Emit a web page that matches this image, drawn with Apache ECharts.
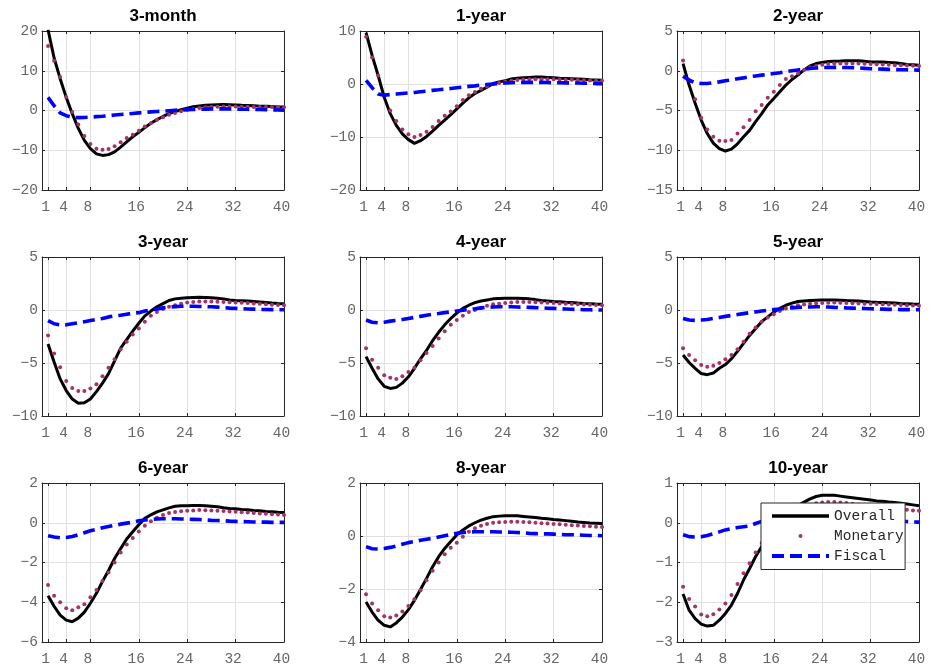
<!DOCTYPE html>
<html>
<head>
<meta charset="utf-8">
<script src="https://cdn.jsdelivr.net/npm/echarts@6/dist/echarts.min.js"></script>
<style>
html,body{margin:0;padding:0;background:#ffffff;}
#chart{width:932px;height:671px;}
</style>
</head>
<body>
<div id="chart"></div>
<script>
// ---------------- data ----------------
const quarters = [1,2,3,4,5,6,7,8,9,10,11,12,13,14,15,16,17,18,19,20,21,22,23,24,25,26,27,28,29,30,31,32,33,34,35,36,37,38,39,40];
const xTickLabels = [1, 4, 8, 16, 24, 32, 40];
const panelTitles = ['3-month', '1-year', '2-year', '3-year', '4-year', '5-year', '6-year', '8-year', '10-year'];
const yMins  = [-20, -20, -15, -10, -10, -10, -6, -4, -3];
const yMaxs  = [20, 10, 5, 5, 5, 5, 2, 2, 1];
const ySteps = [10, 10, 5, 5, 5, 5, 2, 2, 1];
const seriesNames = ['Overall', 'Monetary', 'Fiscal'];

const overall3m  = [20.3,13.2,8.0,3.3,-0.8,-4.5,-7.5,-9.6,-10.9,-11.3,-11.1,-10.4,-9.2,-7.9,-6.6,-5.5,-4.3,-3.2,-2.3,-1.5,-0.8,-0.3,0.2,0.6,0.95,1.15,1.3,1.4,1.45,1.5,1.45,1.4,1.3,1.25,1.2,1.1,1.05,1.0,0.9,0.85];
const monetary3m = [16.2,12.5,8.4,3.4,-0.4,-3.5,-6.4,-8.4,-9.6,-9.9,-9.7,-9.0,-8.0,-6.9,-6.1,-5.1,-4.0,-3.2,-2.3,-1.7,-1.1,-0.6,-0.2,0.2,0.4,0.65,0.8,0.9,0.95,1.0,1.0,1.0,0.95,0.95,0.9,0.9,0.85,0.85,0.8,0.8];
const fiscal3m   = [3.3,1.2,-0.6,-1.3,-1.7,-1.8,-1.75,-1.65,-1.55,-1.45,-1.3,-1.15,-1.0,-0.9,-0.75,-0.6,-0.5,-0.35,-0.25,-0.15,-0.05,0.05,0.15,0.2,0.25,0.3,0.35,0.4,0.4,0.4,0.38,0.35,0.33,0.3,0.27,0.25,0.2,0.17,0.13,0.1];

const overall1y  = [9.7,5.4,1.6,-2.5,-5.6,-7.8,-9.4,-10.5,-11.2,-10.7,-9.9,-8.9,-7.8,-6.8,-5.8,-4.7,-3.6,-2.6,-1.8,-1.2,-0.6,0.1,0.4,0.6,0.95,1.1,1.2,1.25,1.3,1.3,1.25,1.2,1.1,1.05,1.0,0.95,0.9,0.8,0.75,0.7];
const monetary1y = [8.9,5.0,1.6,-2.1,-5.0,-7.0,-8.6,-9.5,-10.0,-9.6,-9.0,-8.1,-7.0,-6.0,-5.2,-4.2,-3.0,-2.1,-1.5,-0.9,-0.45,-0.05,0.2,0.45,0.6,0.75,0.85,0.9,0.9,0.9,0.9,0.9,0.85,0.8,0.8,0.75,0.7,0.65,0.6,0.6];
const fiscal1y   = [0.7,-0.7,-1.9,-2.1,-2.0,-1.9,-1.8,-1.7,-1.6,-1.45,-1.35,-1.2,-1.1,-0.95,-0.85,-0.7,-0.6,-0.45,-0.35,-0.2,-0.1,0.0,0.1,0.2,0.25,0.28,0.3,0.3,0.3,0.3,0.28,0.25,0.23,0.22,0.2,0.2,0.15,0.12,0.08,0.05];

const overall2y  = [0.9,-1.8,-4.1,-6.2,-7.9,-9.1,-9.8,-10.1,-9.85,-9.2,-8.3,-7.5,-6.4,-5.4,-4.3,-3.5,-2.65,-1.8,-1.1,-0.55,0.1,0.6,0.9,1.05,1.15,1.2,1.22,1.25,1.25,1.25,1.2,1.1,1.1,1.1,1.05,1.0,0.9,0.8,0.75,0.7];
const monetary2y = [1.3,-1.2,-3.6,-5.9,-7.4,-8.3,-8.8,-8.85,-8.7,-7.9,-7.1,-6.2,-5.1,-4.3,-3.4,-2.65,-1.8,-1.05,-0.7,-0.3,0.1,0.4,0.6,0.75,0.85,0.9,0.9,0.9,0.9,0.9,0.88,0.85,0.82,0.8,0.75,0.7,0.68,0.65,0.62,0.6];
const fiscal2y   = [-0.7,-1.2,-1.5,-1.6,-1.6,-1.5,-1.4,-1.25,-1.15,-1.0,-0.9,-0.75,-0.65,-0.55,-0.45,-0.35,-0.25,-0.1,0.0,0.1,0.2,0.28,0.35,0.4,0.4,0.42,0.42,0.4,0.38,0.35,0.3,0.25,0.22,0.2,0.17,0.15,0.13,0.12,0.1,0.1];

const overall3y  = [-3.2,-4.9,-6.5,-7.6,-8.4,-8.8,-8.75,-8.4,-7.7,-6.9,-6.0,-4.8,-3.6,-2.8,-2.0,-1.25,-0.55,-0.1,0.3,0.6,0.9,1.05,1.1,1.15,1.18,1.2,1.18,1.15,1.1,1.05,0.95,0.9,0.88,0.85,0.8,0.75,0.7,0.65,0.62,0.6];
const monetary3y = [-2.4,-4.1,-5.4,-6.7,-7.35,-7.65,-7.65,-7.4,-7.0,-6.25,-5.45,-4.65,-3.7,-3.0,-2.3,-1.75,-1.1,-0.55,-0.2,0.1,0.3,0.45,0.6,0.7,0.75,0.8,0.8,0.8,0.78,0.75,0.72,0.7,0.68,0.65,0.62,0.6,0.55,0.5,0.48,0.45];
const fiscal3y   = [-1.0,-1.3,-1.4,-1.4,-1.3,-1.2,-1.1,-1.0,-0.9,-0.8,-0.65,-0.55,-0.5,-0.4,-0.3,-0.25,-0.1,0.0,0.1,0.2,0.28,0.32,0.35,0.35,0.35,0.33,0.32,0.3,0.27,0.22,0.18,0.15,0.12,0.1,0.08,0.05,0.05,0.04,0.03,0.03];

const overall4y  = [-4.4,-5.5,-6.5,-7.2,-7.4,-7.3,-6.9,-6.3,-5.5,-4.6,-3.8,-2.9,-2.1,-1.4,-0.8,-0.3,0.15,0.45,0.7,0.85,0.95,1.05,1.08,1.1,1.1,1.1,1.08,1.05,0.98,0.9,0.85,0.8,0.77,0.73,0.7,0.65,0.62,0.6,0.57,0.55];
const monetary4y = [-3.6,-4.7,-5.45,-6.15,-6.4,-6.5,-6.25,-5.85,-5.45,-4.75,-4.05,-3.4,-2.7,-2.0,-1.4,-0.95,-0.55,-0.2,0.0,0.2,0.4,0.55,0.6,0.65,0.7,0.75,0.75,0.75,0.72,0.7,0.68,0.65,0.62,0.6,0.57,0.55,0.52,0.5,0.47,0.45];
const fiscal4y   = [-0.95,-1.15,-1.2,-1.15,-1.05,-0.98,-0.9,-0.8,-0.7,-0.6,-0.5,-0.4,-0.33,-0.25,-0.18,-0.1,-0.02,0.05,0.12,0.2,0.25,0.28,0.3,0.3,0.3,0.28,0.27,0.25,0.22,0.2,0.17,0.15,0.12,0.1,0.07,0.05,0.03,0.02,0.01,0.0];

const overall5y  = [-4.25,-4.95,-5.5,-6.0,-6.1,-5.95,-5.5,-5.15,-4.6,-3.9,-3.15,-2.4,-1.75,-1.1,-0.65,-0.2,0.15,0.45,0.65,0.8,0.85,0.9,0.93,0.95,0.95,0.95,0.93,0.9,0.88,0.85,0.8,0.75,0.72,0.7,0.68,0.65,0.62,0.6,0.57,0.55];
const monetary5y = [-3.6,-4.25,-4.75,-5.2,-5.35,-5.25,-5.0,-4.65,-4.25,-3.7,-3.0,-2.25,-1.65,-1.1,-0.7,-0.4,-0.1,0.15,0.3,0.45,0.52,0.6,0.62,0.65,0.68,0.7,0.68,0.65,0.63,0.62,0.6,0.6,0.57,0.55,0.52,0.5,0.47,0.45,0.42,0.4];
const fiscal5y   = [-0.8,-0.95,-0.98,-0.95,-0.9,-0.8,-0.7,-0.6,-0.52,-0.43,-0.34,-0.25,-0.18,-0.1,-0.02,0.05,0.1,0.15,0.2,0.25,0.27,0.28,0.3,0.3,0.28,0.25,0.23,0.2,0.18,0.16,0.14,0.12,0.1,0.08,0.06,0.05,0.04,0.04,0.03,0.03];

const overall6y  = [-3.67,-4.2,-4.65,-4.9,-4.98,-4.8,-4.5,-4.05,-3.55,-2.95,-2.4,-1.8,-1.3,-0.82,-0.45,-0.1,0.22,0.4,0.55,0.65,0.75,0.83,0.85,0.86,0.87,0.87,0.85,0.83,0.8,0.75,0.72,0.7,0.67,0.65,0.62,0.6,0.57,0.55,0.53,0.52];
const monetary6y = [-3.13,-3.67,-4.0,-4.3,-4.4,-4.25,-4.1,-3.75,-3.38,-2.93,-2.5,-2.0,-1.5,-1.1,-0.77,-0.44,-0.15,0.07,0.25,0.39,0.49,0.54,0.58,0.6,0.62,0.64,0.63,0.62,0.6,0.59,0.57,0.55,0.53,0.51,0.49,0.47,0.45,0.43,0.41,0.39];
const fiscal6y   = [-0.65,-0.72,-0.76,-0.74,-0.69,-0.6,-0.5,-0.4,-0.33,-0.25,-0.19,-0.13,-0.07,-0.02,0.03,0.1,0.14,0.17,0.19,0.2,0.2,0.2,0.19,0.18,0.17,0.16,0.14,0.12,0.11,0.1,0.08,0.07,0.06,0.05,0.04,0.03,0.03,0.02,0.02,0.02];

const overall8y  = [-2.49,-2.87,-3.18,-3.37,-3.43,-3.28,-3.06,-2.78,-2.43,-2.02,-1.6,-1.16,-0.78,-0.47,-0.21,0.04,0.23,0.38,0.5,0.6,0.67,0.73,0.75,0.76,0.76,0.76,0.74,0.72,0.7,0.67,0.65,0.62,0.6,0.58,0.56,0.53,0.51,0.49,0.48,0.47];
const monetary8y = [-2.2,-2.55,-2.8,-3.03,-3.08,-3.0,-2.85,-2.64,-2.39,-2.05,-1.67,-1.31,-1.0,-0.69,-0.44,-0.25,-0.03,0.16,0.29,0.39,0.45,0.5,0.52,0.53,0.54,0.54,0.53,0.52,0.5,0.48,0.47,0.45,0.44,0.42,0.41,0.4,0.38,0.37,0.35,0.34];
const fiscal8y   = [-0.4,-0.48,-0.49,-0.47,-0.43,-0.38,-0.31,-0.25,-0.21,-0.16,-0.12,-0.09,-0.04,0.01,0.06,0.1,0.13,0.15,0.16,0.16,0.16,0.16,0.15,0.15,0.14,0.13,0.12,0.1,0.09,0.08,0.08,0.07,0.06,0.05,0.05,0.04,0.03,0.02,0.02,0.01];

const overall10y  = [-1.79,-2.2,-2.41,-2.55,-2.6,-2.58,-2.45,-2.28,-2.07,-1.78,-1.44,-1.15,-0.85,-0.6,-0.35,-0.13,0.05,0.2,0.33,0.43,0.52,0.6,0.66,0.69,0.69,0.69,0.67,0.65,0.63,0.61,0.59,0.57,0.55,0.54,0.52,0.51,0.49,0.47,0.45,0.43];
const monetary10y = [-1.61,-1.92,-2.11,-2.31,-2.35,-2.3,-2.18,-2.03,-1.82,-1.54,-1.27,-1.02,-0.75,-0.51,-0.3,-0.12,0.04,0.17,0.27,0.35,0.41,0.45,0.49,0.51,0.52,0.52,0.51,0.5,0.48,0.46,0.45,0.43,0.41,0.39,0.37,0.36,0.35,0.33,0.31,0.3];
const fiscal10y   = [-0.3,-0.35,-0.36,-0.35,-0.32,-0.28,-0.23,-0.18,-0.15,-0.12,-0.1,-0.08,-0.02,0.03,0.07,0.1,0.11,0.12,0.12,0.12,0.12,0.12,0.12,0.12,0.11,0.1,0.1,0.09,0.08,0.07,0.07,0.06,0.05,0.05,0.04,0.04,0.03,0.03,0.02,0.02];

const overallByPanel  = [overall3m, overall1y, overall2y, overall3y, overall4y, overall5y, overall6y, overall8y, overall10y];
const monetaryByPanel = [monetary3m, monetary1y, monetary2y, monetary3y, monetary4y, monetary5y, monetary6y, monetary8y, monetary10y];
const fiscalByPanel   = [fiscal3m, fiscal1y, fiscal2y, fiscal3y, fiscal4y, fiscal5y, fiscal6y, fiscal8y, fiscal10y];

// ---------------- layout & style ----------------
const colLefts = [42, 360, 677];
const rowTops = [31, 257, 483];
const plotW = 242, plotH = 159;
const MONO = "'Liberation Mono', 'DejaVu Sans Mono', 'Courier New', monospace";
const SANS = "'Liberation Sans', Arial, Helvetica, sans-serif";
const AXIS_COLOR = '#262626';
const LABEL_COLOR = '#666666';
const GRID_COLOR = '#e0e0e0';
const COL_OVERALL = '#000000';
const COL_MONETARY = '#a2336b';
const COL_FISCAL = '#0000ff';
const FISCAL_DASH = [12, 6];

const fmtY = v => (v < 0 ? '\u2212' + Math.abs(v) : String(v));
const pairs = ys => quarters.map((q, k) => [q, ys[k]]);

const grids = [], xAxes = [], yAxes = [], series = [], titles = [];

panelTitles.forEach((name, i) => {
  const r = Math.floor(i / 3), c = i % 3;
  const left = colLefts[c], top = rowTops[r];
  grids.push({ left: left, top: top, width: plotW, height: plotH, outerBoundsMode: 'none', containLabel: false });

  titles.push({
    text: name,
    left: left + plotW / 2,
    top: top - 23,
    textAlign: 'center',
    padding: 0,
    textStyle: { fontFamily: SANS, fontSize: 17, fontWeight: 'bold', color: '#000' }
  });

  xAxes.push({
    type: 'value', gridIndex: i, position: 'bottom', min: 0, max: 40,
    axisLine: { show: true, onZero: false, lineStyle: { color: AXIS_COLOR, width: 1 } },
    axisTick: { show: true, inside: true, length: 3, customValues: xTickLabels, lineStyle: { color: AXIS_COLOR } },
    axisLabel: { show: true, customValues: xTickLabels, margin: 10, fontFamily: MONO, fontSize: 14.5, color: LABEL_COLOR, padding: [0, 5, 0, 0] },
    splitLine: { show: true, lineStyle: { color: GRID_COLOR, width: 1 } }
  });
  xAxes.push({
    type: 'value', gridIndex: i, position: 'top', min: 0, max: 40,
    axisLine: { show: true, onZero: false, lineStyle: { color: AXIS_COLOR, width: 1 } },
    axisTick: { show: true, inside: true, length: 3, customValues: xTickLabels, lineStyle: { color: AXIS_COLOR } },
    axisLabel: { show: false },
    splitLine: { show: false }
  });
  yAxes.push({
    type: 'value', gridIndex: i, position: 'left', min: yMins[i], max: yMaxs[i], interval: ySteps[i],
    axisLine: { show: true, onZero: false, lineStyle: { color: AXIS_COLOR, width: 1 } },
    axisTick: { show: true, inside: true, length: 3, lineStyle: { color: AXIS_COLOR } },
    axisLabel: { show: true, margin: 4, fontFamily: MONO, fontSize: 14.5, color: LABEL_COLOR, formatter: fmtY },
    splitLine: { show: true, lineStyle: { color: GRID_COLOR, width: 1 } }
  });
  yAxes.push({
    type: 'value', gridIndex: i, position: 'right', min: yMins[i], max: yMaxs[i], interval: ySteps[i],
    axisLine: { show: true, onZero: false, lineStyle: { color: AXIS_COLOR, width: 1 } },
    axisTick: { show: true, inside: true, length: 3, lineStyle: { color: AXIS_COLOR } },
    axisLabel: { show: false },
    splitLine: { show: false }
  });

  const xi = 2 * i, yi = 2 * i;
  series.push({
    name: seriesNames[0], type: 'line', xAxisIndex: xi, yAxisIndex: yi,
    data: pairs(overallByPanel[i]), symbol: 'none', showSymbol: false, clip: true,
    lineStyle: { color: COL_OVERALL, width: 3 }, itemStyle: { color: COL_OVERALL },
    z: 2
  });
  series.push({
    name: seriesNames[1], type: 'line', xAxisIndex: xi, yAxisIndex: yi,
    data: pairs(monetaryByPanel[i]), symbol: 'circle', symbolSize: 4, showSymbol: true, showAllSymbol: true, clip: true,
    lineStyle: { color: COL_MONETARY, width: 1, opacity: 0 },
    itemStyle: { color: COL_MONETARY, borderWidth: 0 },
    z: 3
  });
  series.push({
    name: seriesNames[2], type: 'line', xAxisIndex: xi, yAxisIndex: yi,
    data: pairs(fiscalByPanel[i]), symbol: 'none', showSymbol: false, clip: true,
    lineStyle: { color: COL_FISCAL, width: 3.6, type: FISCAL_DASH }, itemStyle: { color: COL_FISCAL },
    z: 4
  });
});

const option = {
  animation: false,
  backgroundColor: '#ffffff',
  title: titles,
  grid: grids,
  xAxis: xAxes,
  yAxis: yAxes,
  series: series,
  legend: {
    orient: 'vertical',
    left: 761, top: 503,
    padding: [5.5, 1.5, 6, 9],
    itemWidth: 57, itemHeight: 5, itemGap: 5,
    backgroundColor: '#ffffff',
    borderColor: AXIS_COLOR, borderWidth: 1,
    selectedMode: false,
    z: 20,
    textStyle: { fontFamily: MONO, fontSize: 14.5, color: AXIS_COLOR },
    data: [
      { name: 'Overall', itemStyle: { opacity: 0 }, lineStyle: { color: COL_OVERALL, width: 3.5, type: 'solid', opacity: 1 } },
      { name: 'Monetary', lineStyle: { opacity: 0 }, itemStyle: { color: COL_MONETARY } },
      { name: 'Fiscal', itemStyle: { opacity: 0 }, lineStyle: { color: COL_FISCAL, width: 4, type: FISCAL_DASH, opacity: 1 } }
    ]
  }
};

const chart = echarts.init(document.getElementById('chart'), null, { renderer: 'canvas' });
chart.setOption(option);
</script>
</body>
</html>
